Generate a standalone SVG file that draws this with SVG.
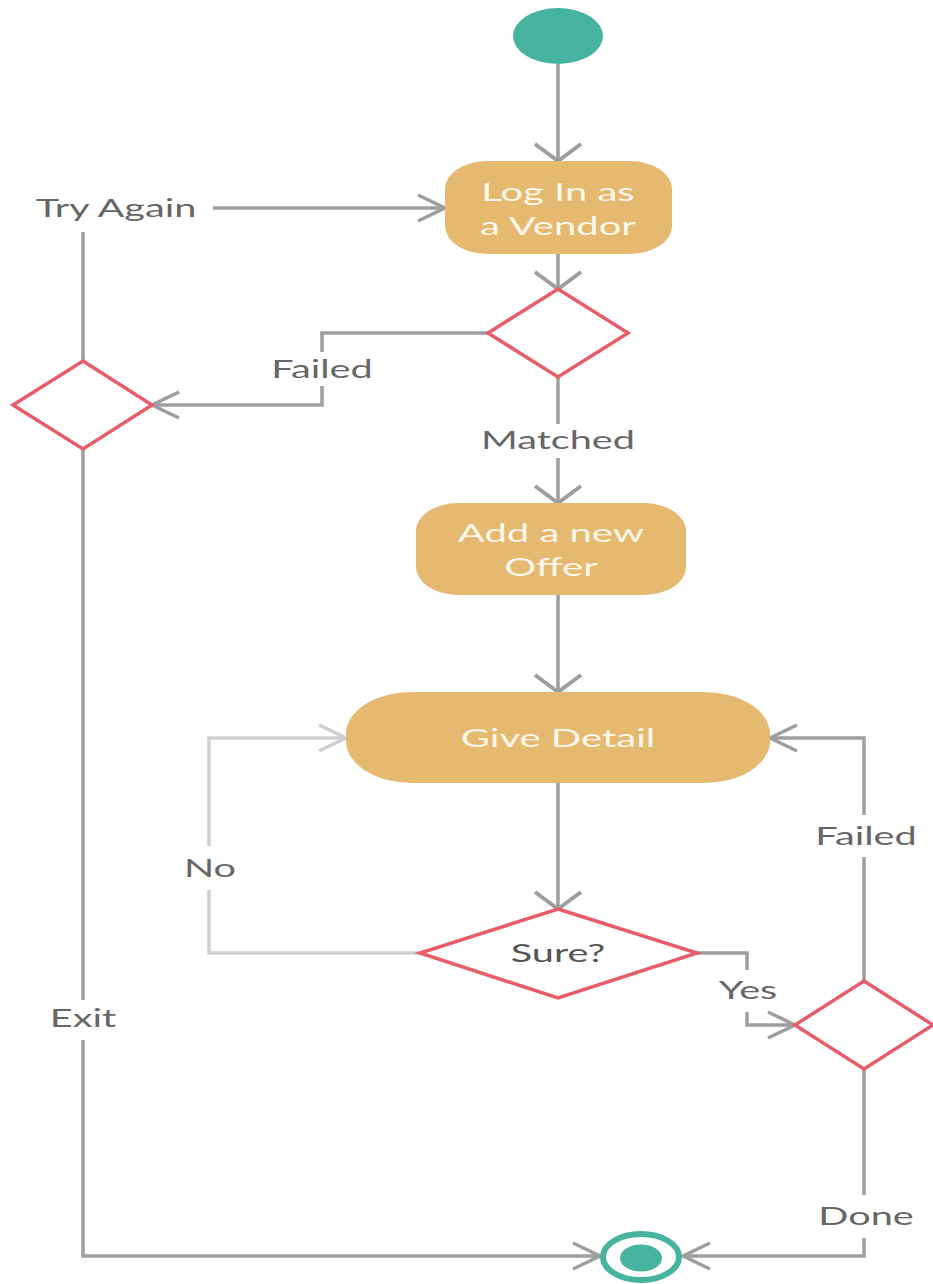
<svg xmlns="http://www.w3.org/2000/svg" width="933" height="1284" viewBox="0 0 933 1284">
<style>
.bg{fill:#ffffff}
.act{fill:#E5B96F}
.dec{fill:#ffffff;stroke:#E85B69;stroke-width:3.5}
.term{fill:#45B39D}
.ring{fill:#ffffff;stroke:#45B39D;stroke-width:6}
.ln{fill:none;stroke:#9E9E9E;stroke-width:3.5}
.lnl{fill:none;stroke:#CFCFCF;stroke-width:3.5}
.at{font-family:Lato,"Liberation Sans",sans-serif;font-size:25px;fill:#FFF7EA;text-anchor:middle}
.lb{font-family:Lato,"Liberation Sans",sans-serif;font-size:24.8px;fill:#666666;text-anchor:middle}
</style>
<defs>
<marker id="ah" markerUnits="userSpaceOnUse" orient="auto" markerWidth="40" markerHeight="40" refX="0" refY="0" viewBox="-30 -20 34 40" overflow="visible">
<path d="M-27,-13 L0,0 L-27,13" fill="none" stroke="#9E9E9E" stroke-width="3.5"/>
</marker>
<marker id="av" markerUnits="userSpaceOnUse" orient="auto" markerWidth="40" markerHeight="60" refX="0" refY="0" viewBox="-20 -30 24 60" overflow="visible">
<path d="M-17,-23 L0,0 L-17,23" fill="none" stroke="#9E9E9E" stroke-width="4"/>
</marker>
<marker id="ahl" markerUnits="userSpaceOnUse" orient="auto" markerWidth="40" markerHeight="40" refX="0" refY="0" viewBox="-30 -20 34 40" overflow="visible">
<path d="M-27,-13 L0,0 L-27,13" fill="none" stroke="#CFCFCF" stroke-width="3.5"/>
</marker>
</defs>
<rect class="bg" x="0" y="0" width="933" height="1284"/>

<g id="connectors">
<path class="ln" d="M558,64 L558,161" marker-end="url(#av)"/>
<path class="ln" d="M558,254 L558,289" marker-end="url(#av)"/>
<path class="ln" d="M213,208 L445,208" marker-end="url(#ah)"/>
<path class="ln" d="M83,361 L83,232"/>
<path class="ln" d="M488,333 L322,333 L322,352"/>
<path class="ln" d="M322,386 L322,405 L152,405" marker-end="url(#ah)"/>
<path class="ln" d="M558,377 L558,424"/>
<path class="ln" d="M558,458 L558,503" marker-end="url(#av)"/>
<path class="ln" d="M558,595 L558,692" marker-end="url(#av)"/>
<path class="ln" d="M558,783 L558,909" marker-end="url(#av)"/>
<path class="lnl" d="M420,953 L209,953 L209,890"/>
<path class="lnl" d="M209,846 L209,738 L346,738" marker-end="url(#ahl)"/>
<path class="ln" d="M697,953 L747,953 L747,970"/>
<path class="ln" d="M747,1012 L747,1025 L795,1025" marker-end="url(#ah)"/>
<path class="ln" d="M864,981 L864,857"/>
<path class="ln" d="M864,815 L864,738 L770,738" marker-end="url(#ah)"/>
<path class="ln" d="M864,1069 L864,1195"/>
<path class="ln" d="M864,1238 L864,1256 L683,1256" marker-end="url(#ah)"/>
<path class="ln" d="M83,449 L83,1000"/>
<path class="ln" d="M83,1040 L83,1256 L600,1256" marker-end="url(#ah)"/>
<text class="lb" transform="translate(116,217) scale(1.6,1)">Try Again</text>
<text class="lb" transform="translate(322,378) scale(1.6,1)">Failed</text>
<text class="lb" transform="translate(558,449) scale(1.6,1)">Matched</text>
<text class="lb" transform="translate(210,877) scale(1.6,1)">No</text>
<text class="lb" transform="translate(748,999) scale(1.6,1)">Yes</text>
<text class="lb" transform="translate(866,845) scale(1.6,1)">Failed</text>
<text class="lb" transform="translate(83,1027) scale(1.6,1)">Exit</text>
<text class="lb" transform="translate(866,1225) scale(1.6,1)">Done</text>
</g>

<g id="start">
<ellipse class="term" cx="558" cy="36" rx="45" ry="28"/>
</g>

<g id="login">
<rect class="act" x="445" y="161" width="227" height="93" rx="42" ry="28"/>
<text class="at" transform="translate(558,201) scale(1.6,1)">Log In as</text>
<text class="at" transform="translate(558,235) scale(1.6,1)">a Vendor</text>
</g>

<g id="decision1">
<polygon class="dec" points="558,289 628,333 558,377 488,333"/>
</g>

<g id="decision2">
<polygon class="dec" points="83,361 152,405 83,449 13,405"/>
</g>

<g id="addoffer">
<rect class="act" x="416" y="503" width="270" height="92" rx="42" ry="28"/>
<text class="at" transform="translate(551,542) scale(1.6,1)">Add a new</text>
<text class="at" transform="translate(551,576) scale(1.6,1)">Offer</text>
</g>

<g id="givedetail">
<rect class="act" x="346" y="692" width="424" height="91" rx="66" ry="42"/>
<text class="at" transform="translate(558,747) scale(1.6,1)">Give Detail</text>
</g>

<g id="sure">
<polygon class="dec" points="558,909 697,953 558,998 420,953"/>
<text class="lb" style="fill:#555555" transform="translate(558,962) scale(1.6,1)">Sure?</text>
</g>

<g id="decision3">
<polygon class="dec" points="864,981 933,1025 864,1069 795,1025"/>
</g>

<g id="end">
<ellipse class="ring" cx="641" cy="1257" rx="38" ry="23"/>
<ellipse class="term" cx="641" cy="1258" rx="21" ry="13.5"/>
</g>
</svg>
